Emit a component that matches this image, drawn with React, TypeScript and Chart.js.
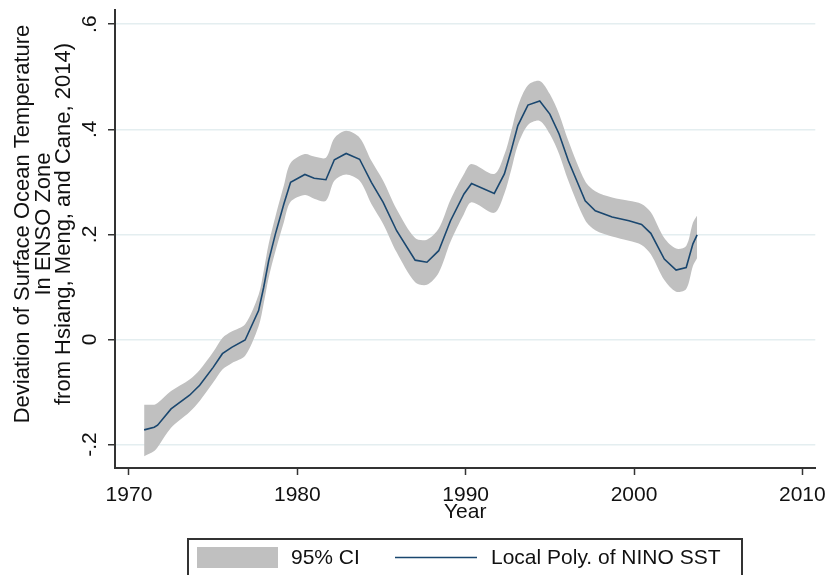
import React, { useEffect, useRef } from 'react';
import { Chart, registerables } from 'chart.js';

Chart.register(...registerables);

// ---- data ----
const years = [
  1970.9, 1971.5, 1971.7, 1972.5, 1973.6, 1974.2, 1975.0, 1975.55, 1976.1, 1976.9,
  1977.7, 1978.0, 1978.3, 1978.7, 1979.2, 1979.6, 1980.45, 1981.0, 1981.7, 1982.2,
  1982.9, 1983.7, 1984.4, 1985.1, 1985.9, 1987.0, 1987.7, 1988.4, 1989.1, 1989.9,
  1990.35, 1991.7, 1992.3, 1992.7, 1993.1, 1993.7, 1994.4, 1995.0, 1995.55, 1996.1,
  1997.1, 1997.7, 1998.7, 1999.7, 2000.45, 2001.0, 2001.8, 2002.5, 2003.1, 2003.5,
  2003.75,
];
const fitValues = [
  -0.172, -0.167, -0.163, -0.132, -0.106, -0.087, -0.053, -0.027, -0.015, -0.001,
  0.055, 0.099, 0.150, 0.201, 0.258, 0.299, 0.314, 0.307, 0.304, 0.342,
  0.354, 0.343, 0.299, 0.261, 0.207, 0.151, 0.147, 0.169, 0.226, 0.277,
  0.297, 0.278, 0.315, 0.359, 0.407, 0.446, 0.454, 0.429, 0.391, 0.340,
  0.264, 0.245, 0.233, 0.226, 0.219, 0.202, 0.153, 0.132, 0.137, 0.182,
  0.199,
];
const ciUpper = [
  -0.124, -0.124, -0.121, -0.098, -0.076, -0.058, -0.024, 0.003, 0.015, 0.029,
  0.085, 0.130, 0.182, 0.234, 0.293, 0.336, 0.353, 0.348, 0.346, 0.383,
  0.397, 0.384, 0.340, 0.302, 0.248, 0.193, 0.190, 0.211, 0.266, 0.315,
  0.334, 0.315, 0.352, 0.396, 0.444, 0.484, 0.492, 0.467, 0.429, 0.378,
  0.301, 0.282, 0.270, 0.264, 0.258, 0.242, 0.193, 0.173, 0.178, 0.222,
  0.236,
];
const ciLower = [
  -0.222, -0.212, -0.205, -0.168, -0.138, -0.117, -0.082, -0.057, -0.045, -0.031,
  0.025, 0.068, 0.118, 0.168, 0.223, 0.262, 0.275, 0.268, 0.264, 0.302,
  0.314, 0.302, 0.258, 0.220, 0.166, 0.109, 0.104, 0.127, 0.186, 0.239,
  0.261, 0.241, 0.278, 0.322, 0.370, 0.408, 0.416, 0.391, 0.353, 0.302,
  0.227, 0.208, 0.196, 0.188, 0.180, 0.162, 0.113, 0.091, 0.096, 0.140,
  0.155,
];
const xTickValues = [1970, 1980, 1990, 2000, 2010];
const yTickValues = [-0.2, 0, 0.2, 0.4, 0.6];
const yTickLabels = ['-.2', '0', '.2', '.4', '.6'];
const yTitleLines = [
  'Deviation of Surface Ocean Temperature',
  'In ENSO Zone',
  'from Hsiang, Meng, and Cane, 2014)',
];
const xTitle = 'Year';
const ciLabel = '95% CI';
const fitLabel = 'Local Poly. of NINO SST';

// ---- styles ----
const FONT = "'Liberation Sans', Arial, Helvetica, sans-serif";
const TEXT = '#111111';
const AXIS = '#333333';
const LINE = '#1a476f';
const BAND = '#c0c0c0';
const GRID = '#e4eef0';

const extrasPlugin = {
  id: 'extras',
  afterDraw(chart: any) {
    const ctx = chart.ctx;
    const yScale = chart.scales.y;
    ctx.save();
    // rotated y tick labels
    ctx.fillStyle = TEXT;
    ctx.font = `21px ${FONT}`;
    ctx.textAlign = 'center';
    ctx.textBaseline = 'middle';
    yTickValues.forEach((v, i) => {
      const py = yScale.getPixelForValue(v);
      ctx.save();
      ctx.translate(90, py);
      ctx.rotate(-Math.PI / 2);
      ctx.fillText(yTickLabels[i], 0, 0);
      ctx.restore();
    });
    // y axis title (three rotated lines)
    ctx.font = `22px ${FONT}`;
    const titleCenterY = 224;
    const lineXs = [23, 43.5, 64];
    yTitleLines.forEach((t, i) => {
      ctx.save();
      ctx.translate(lineXs[i], titleCenterY);
      ctx.rotate(-Math.PI / 2);
      ctx.fillText(t, 0, 0);
      ctx.restore();
    });
    // legend box
    const bx = 188, by = 539, bw = 554;
    ctx.strokeStyle = AXIS;
    ctx.lineWidth = 2;
    ctx.beginPath();
    ctx.moveTo(bx, chart.height + 5);
    ctx.lineTo(bx, by);
    ctx.lineTo(bx + bw, by);
    ctx.lineTo(bx + bw, chart.height + 5);
    ctx.stroke();
    ctx.fillStyle = BAND;
    ctx.fillRect(197, 547, 81, 21);
    ctx.strokeStyle = LINE;
    ctx.lineWidth = 1.5;
    ctx.beginPath();
    ctx.moveTo(395, 557.5);
    ctx.lineTo(477, 557.5);
    ctx.stroke();
    ctx.fillStyle = TEXT;
    ctx.font = `21px ${FONT}`;
    ctx.textAlign = 'left';
    ctx.textBaseline = 'middle';
    ctx.fillText(chart.data.datasets[1].label, 291, 558);
    ctx.fillText(chart.data.datasets[0].label, 491, 558);
    ctx.restore();
  },
};

export default function App() {
  const ref = useRef<HTMLCanvasElement | null>(null);

  useEffect(() => {
    if (!ref.current) return;
    const chart = new Chart(ref.current, {
      type: 'line',
      data: {
        datasets: [
          {
            label: fitLabel,
            data: years.map((x, i) => ({ x, y: fitValues[i] })),
            borderColor: LINE,
            borderWidth: 1.6,
            pointRadius: 0,
            fill: false,
            tension: 0,
          },
          {
            label: ciLabel,
            data: years.map((x, i) => ({ x, y: ciUpper[i] })),
            borderWidth: 0,
            borderColor: BAND,
            backgroundColor: BAND,
            pointRadius: 0,
            fill: '+1',
            tension: 0.3,
          },
          {
            label: 'ci-lower',
            data: years.map((x, i) => ({ x, y: ciLower[i] })),
            borderWidth: 0,
            borderColor: BAND,
            backgroundColor: BAND,
            pointRadius: 0,
            fill: false,
            tension: 0.3,
          },
        ],
      },
      options: {
        responsive: false,
        animation: false,
        layout: { padding: { left: 0, right: 16, top: 10, bottom: 50 } },
        plugins: {
          legend: { display: false },
          tooltip: { enabled: false },
        },
        scales: {
          x: {
            type: 'linear',
            min: 1969.17,
            max: 2010.77,
            afterBuildTicks: (s: any) => {
              s.ticks = xTickValues.map((v) => ({ value: v }));
            },
            afterFit: (s: any) => {
              s.height = 57;
            },
            grid: {
              drawOnChartArea: false,
              drawTicks: true,
              tickLength: 7,
              tickColor: AXIS,
              tickWidth: 1.5,
            },
            border: { display: true, color: AXIS, width: 2 },
            ticks: {
              padding: 8,
              color: TEXT,
              font: { family: FONT, size: 21 },
              maxRotation: 0,
              autoSkip: false,
              callback: (v: any) => String(v),
            },
            title: {
              display: true,
              text: xTitle,
              color: TEXT,
              font: { family: FONT, size: 21 },
              padding: { top: 0, bottom: 0 },
            },
          },
          y: {
            type: 'linear',
            min: -0.2445,
            max: 0.627,
            afterBuildTicks: (s: any) => {
              s.ticks = yTickValues.map((v) => ({ value: v }));
            },
            afterFit: (s: any) => {
              s.width = 115;
            },
            grid: {
              color: GRID,
              lineWidth: 1.5,
              drawTicks: true,
              tickLength: 7,
              tickColor: AXIS,
              tickWidth: 1.5,
            },
            border: { display: true, color: AXIS, width: 2 },
            ticks: { display: false },
          },
        },
      },
      plugins: [extrasPlugin],
    });
    return () => chart.destroy();
  }, []);

  return (
    <div style={{ position: 'fixed', left: 0, top: 0, width: 834, height: 575, background: '#fff' }}>
      <canvas ref={ref} width={834} height={575} />
    </div>
  );
}
